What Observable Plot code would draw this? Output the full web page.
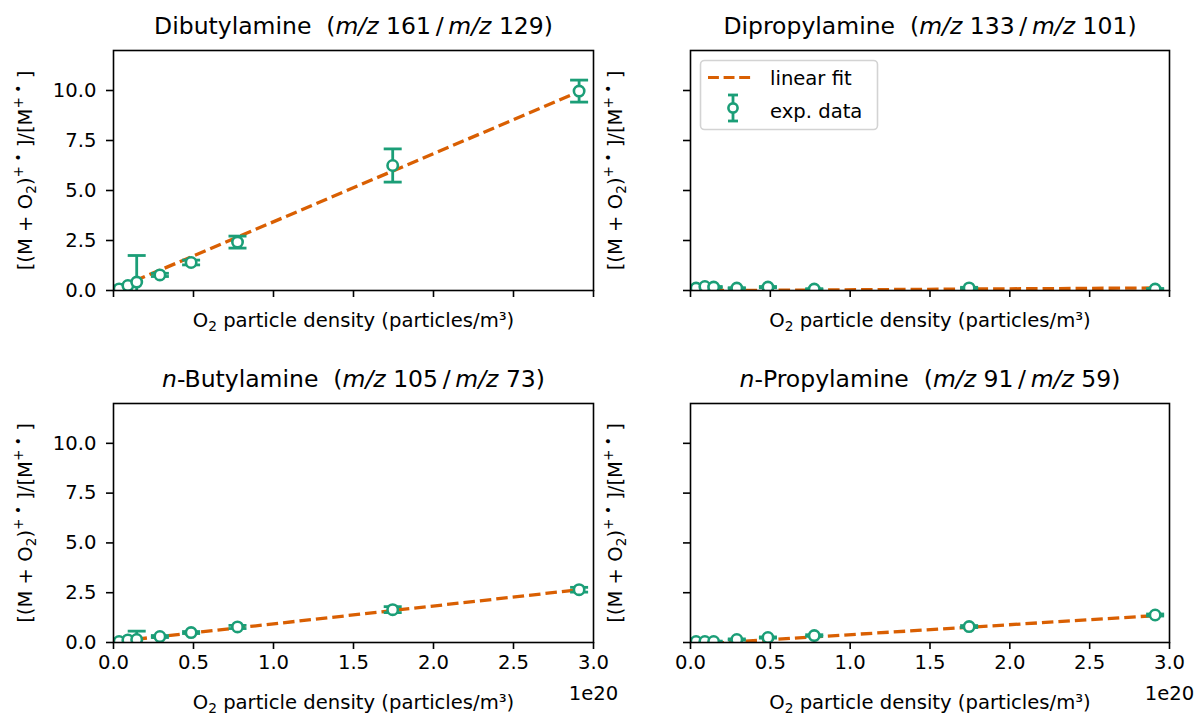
<!DOCTYPE html>
<html><head><meta charset="utf-8">
<script src="https://cdn.jsdelivr.net/npm/d3@7"></script>
<script src="https://cdn.jsdelivr.net/npm/@observablehq/plot@0.6"></script>
<style>
html,body{margin:0;padding:0;background:#fff;}
#wrap{position:relative;width:1196px;height:719px;overflow:hidden;font-family:"DejaVu Sans",sans-serif;}
.panel{position:absolute;}
svg text{white-space:pre;}
</style></head><body><div id="wrap"></div>
<script>
// ---- data ----
const o2Density = [0.035e20, 0.09e20, 0.145e20, 0.29e20, 0.485e20, 0.775e20, 1.745e20, 2.91e20];

const dibutylRatio = [0.08, 0.25, 0.42, 0.78, 1.40, 2.42, 6.25, 9.97];
const dibutylErr   = [0.04, 0.05, 1.33, 0.08, 0.12, 0.30, 0.83, 0.55];
const dibutylFit   = [0.15, 9.94];   // fit line at first / last density

const dipropylRatio = [0.12, 0.20, 0.17, 0.12, 0.17, 0.07, 0.13, 0.07];
const dipropylErr   = [0.02, 0.03, 0.03, 0.02, 0.03, 0.02, 0.03, 0.03];
const dipropylFit   = [-0.009, 0.127];

const nbutylRatio = [0.05, 0.13, 0.15, 0.30, 0.50, 0.78, 1.65, 2.65];
const nbutylErr   = [0.02, 0.03, 0.42, 0.05, 0.05, 0.08, 0.15, 0.12];
const nbutylFit   = [0.07, 2.65];

const npropylRatio = [0.05, 0.05, 0.05, 0.15, 0.25, 0.35, 0.80, 1.38];
const npropylErr   = [0.02, 0.02, 0.02, 0.03, 0.03, 0.04, 0.05, 0.05];
const npropylFit   = [-0.09, 1.35];

const xTicks = [0, 0.5e20, 1.0e20, 1.5e20, 2.0e20, 2.5e20, 3.0e20];
const yTicks = [0, 2.5, 5.0, 7.5, 10.0];
const xDomain = [0, 3e20];
const yDomain = [0, 12];

const titleDibutyl  = [["Dibutylamine  (",""],["m/z","i"],[" 161\u2009/\u2009",""],["m/z","i"],[" 129)",""]];
const titleDipropyl = [["Dipropylamine  (",""],["m/z","i"],[" 133\u2009/\u2009",""],["m/z","i"],[" 101)",""]];
const titleNbutyl   = [["n","i"],["-Butylamine  (",""],["m/z","i"],[" 105\u2009/\u2009",""],["m/z","i"],[" 73)",""]];
const titleNpropyl  = [["n","i"],["-Propylamine  (",""],["m/z","i"],[" 91\u2009/\u2009",""],["m/z","i"],[" 59)",""]];
const yLabel = [["[(M + O",""],["2","sub"],[")",""],["+ \u2022","sup"],[" ]/[M",""],["+ \u2022","sup"],[" ]",""]];
const xLabel = [["O",""],["2","sub"],[" particle density (particles/m\u00b3)",""]];
const offsetLabel = "1e20";
const legendLabels = ["linear fit", "exp. data"];

// ---- styles ----
const ORANGE = "#d95f02", GREEN = "#1b9e77";
const FS = 19.6, TFS = 23.5;

const capSymbol = {draw(ctx, size){ const r = Math.sqrt(size/Math.PI); ctx.moveTo(-r,0); ctx.lineTo(r,0); }};

function rich(textEl, segs, basePx){
  const t = d3.select(textEl);
  t.text(null);
  let shift = 0;
  for (const [s,k] of segs){
    const sp = t.append("tspan").text(s);
    let target = 0;
    if (k === "i") sp.attr("font-style","italic");
    if (k === "sub"){ sp.attr("font-size", basePx*0.7); target = basePx*0.22; }
    if (k === "sup"){ sp.attr("font-size", basePx*0.7); target = -basePx*0.42; }
    if (target !== shift){ sp.attr("dy", target - shift); shift = target; }
  }
}
const plain = segs => segs.map(d=>d[0]).join("");
function richAll(svg, segs, px){
  const s = plain(segs);
  svg.selectAll("text").filter(function(){ return this.textContent === s; }).each(function(){ rich(this, segs, px); });
}

const panels = [
  {y: dibutylRatio,  err: dibutylErr,  fit: dibutylFit,  title: titleDibutyl,  left: 0,   top: 0,   h: 360, mL: 113, mR: 5,  mT: 50, mB: 70, showX: false, showY: true,  yLabDx: -82},
  {y: dipropylRatio, err: dipropylErr, fit: dipropylFit, title: titleDipropyl, left: 598, top: 0,   h: 360, mL: 92,  mR: 27, mT: 50, mB: 70, showX: false, showY: false, yLabDx: -69},
  {y: nbutylRatio,   err: nbutylErr,   fit: nbutylFit,   title: titleNbutyl,   left: 0,   top: 360, h: 359, mL: 113, mR: 5,  mT: 43, mB: 77, showX: true,  showY: true,  yLabDx: -82},
  {y: npropylRatio,  err: npropylErr,  fit: npropylFit,  title: titleNpropyl,  left: 598, top: 360, h: 359, mL: 92,  mR: 27, mT: 43, mB: 77, showX: true,  showY: false, yLabDx: -69}
];

const wrap = d3.select("#wrap");

for (const p of panels){
  const rows = o2Density.map((x,i)=>({x, y: p.y[i], lo: p.y[i]-p.err[i], hi: p.y[i]+p.err[i]}));
  const fitRows = [{x: o2Density[0], y: p.fit[0]}, {x: o2Density[o2Density.length-1], y: p.fit[1]}];
  const marks = [
    Plot.line(fitRows, {x:"x", y:"y", stroke: ORANGE, strokeWidth: 3.3, strokeDasharray: "11.5,5", strokeLinecap: "butt", clip: true}),
    Plot.ruleX(rows, {x:"x", y1:"lo", y2:"hi", stroke: GREEN, strokeWidth: 2.8, clip: true}),
    Plot.dot(rows, {x:"x", y:"lo", symbol: capSymbol, r: 9, stroke: GREEN, strokeWidth: 2.8, clip: true}),
    Plot.dot(rows, {x:"x", y:"hi", symbol: capSymbol, r: 9, stroke: GREEN, strokeWidth: 2.8, clip: true}),
    Plot.dot(rows, {x:"x", y:"y", r: 5.2, stroke: GREEN, fill: "white", strokeWidth: 2.6, clip: true}),
    Plot.frame({stroke: "black", strokeWidth: 1.6}),
    Plot.axisX({ticks: xTicks, tickSize: 7, tickPadding: 6, strokeWidth: 1.6, fontSize: FS, label: null,
      tickFormat: p.showX ? (d => (d/1e20).toFixed(1)) : (() => "")}),
    Plot.axisY({ticks: yTicks, tickSize: 7, tickPadding: 10, strokeWidth: 1.6, fontSize: FS, label: null,
      tickFormat: p.showY ? (d => d.toFixed(1)) : (() => "")}),
    Plot.text([plain(p.title)], {text: d=>d, frameAnchor: "top", dy: -17, lineAnchor: "bottom", textAnchor: "middle", fontSize: TFS}),
    Plot.text([plain(xLabel)], {text: d=>d, frameAnchor: "bottom", dy: p.showX ? 66 : 36, lineAnchor: "bottom", textAnchor: "middle", fontSize: FS}),
    Plot.text([plain(yLabel)], {text: d=>d, frameAnchor: "left", dx: p.yLabDx, rotate: -90, lineAnchor: "bottom", textAnchor: "middle", fontSize: FS})
  ];
  if (p.showX) marks.push(Plot.text([offsetLabel], {text: d=>d, frameAnchor: "bottom-right", dy: 57, lineAnchor: "bottom", textAnchor: "middle", fontSize: FS}));
  const chart = Plot.plot({
    width: 598, height: p.h,
    marginLeft: p.mL, marginRight: p.mR, marginTop: p.mT, marginBottom: p.mB,
    style: {fontFamily: "DejaVu Sans", fontSize: FS + "px", color: "black", background: "transparent", overflow: "visible"},
    x: {domain: xDomain},
    y: {domain: yDomain},
    marks
  });
  const svg = d3.select(chart);
  richAll(svg, p.title, TFS);
  richAll(svg, xLabel, FS);
  richAll(svg, yLabel, FS);
  wrap.append("div").attr("class","panel").style("left", p.left+"px").style("top", p.top+"px").node().appendChild(chart);
}

// ---- legend (top-right panel) ----
const lg = wrap.append("svg").attr("class","panel").style("left","699px").style("top","59px")
  .attr("width", 182).attr("height", 74).style("font-family","DejaVu Sans");
lg.append("rect").attr("x",1.5).attr("y",1.5).attr("width",177).attr("height",69).attr("rx",4)
  .attr("fill","white").attr("fill-opacity",0.8).attr("stroke","#d3d3d3").attr("stroke-width",1.6);
lg.append("line").attr("x1",9).attr("x2",52).attr("y1",18.5).attr("y2",18.5)
  .attr("stroke",ORANGE).attr("stroke-width",3).attr("stroke-dasharray","10.9,4.7");
lg.append("line").attr("x1",34).attr("x2",34).attr("y1",36).attr("y2",62).attr("stroke",GREEN).attr("stroke-width",2.8);
for (const yy of [36,62]) lg.append("line").attr("x1",29).attr("x2",39).attr("y1",yy).attr("y2",yy).attr("stroke",GREEN).attr("stroke-width",2.8);
lg.append("circle").attr("cx",34).attr("cy",49).attr("r",4.6).attr("fill","white").attr("stroke",GREEN).attr("stroke-width",2.6);
lg.append("text").attr("x",71).attr("y",25.5).attr("font-size",FS).text(legendLabels[0]);
lg.append("text").attr("x",71).attr("y",59).attr("font-size",FS).text(legendLabels[1]);
</script></body></html>
